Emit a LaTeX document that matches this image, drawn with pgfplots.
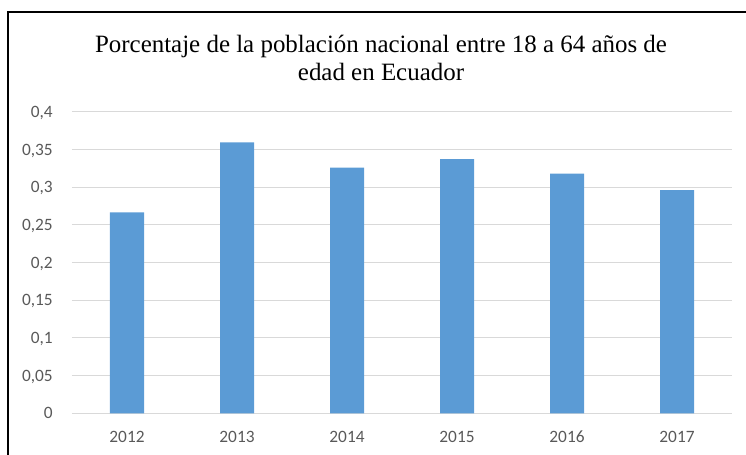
\documentclass[border=0pt]{standalone}
\usepackage{pgfplots}
\pgfplotsset{compat=1.18}
\usepackage{fontspec}
\setmainfont{Carlito}
\newfontfamily\titlefont{Liberation Serif}
\definecolor{barblue}{HTML}{5B9BD5}
\definecolor{gridgray}{HTML}{D9D9D9}
\definecolor{ticktext}{HTML}{595959}
\begin{document}
\begin{tikzpicture}
\path[use as bounding box] (0,0) rectangle (559.5pt,340.5pt);
\draw[line width=1.1pt] (6pt,-10pt) -- (6pt,331.5pt) -- (570pt,331.5pt);
\node[align=center, font=\titlefont\fontsize{18.7}{21}\selectfont] at (285.75pt,296.75pt)
  {Porcentaje de la población nacional entre 18 a 64 años de\\edad en Ecuador};
\begin{axis}[
  at={(54pt,30.5pt)}, anchor=south west,
  scale only axis, width=495pt, height=226.2pt,
  ybar, bar width=25.5pt,
  xmin=-0.5, xmax=5.5, ymin=0, ymax=0.4,
  xtick={0,1,2,3,4,5},
  xticklabels={2012,2013,2014,2015,2016,2017},
  ytick={0,0.05,0.1,0.15,0.2,0.25,0.3,0.35,0.4},
  yticklabels={0,{0,05},{0,1},{0,15},{0,2},{0,25},{0,3},{0,35},{0,4}},
  axis y line*=left, axis x line*=bottom,
  y axis line style={draw=none},
  x axis line style={draw=gridgray, line width=0.75pt, -},
  ymajorgrids, grid style={draw=gridgray, line width=0.75pt},
  major tick length=0pt,
  tick label style={font=\fontsize{13}{15}\selectfont, text=ticktext},
  yticklabel style={anchor=base east, inner sep=0pt, xshift=-14.25pt, yshift=-4.2pt},
  xticklabel style={anchor=base, inner sep=0pt, yshift=-22.2pt},
  clip=false,
]
\addplot[fill=barblue, draw=none] coordinates {
  (0,0.2666) (1,0.3594) (2,0.326) (3,0.337) (4,0.318) (5,0.296)
};
\end{axis}
\end{tikzpicture}
\end{document}
